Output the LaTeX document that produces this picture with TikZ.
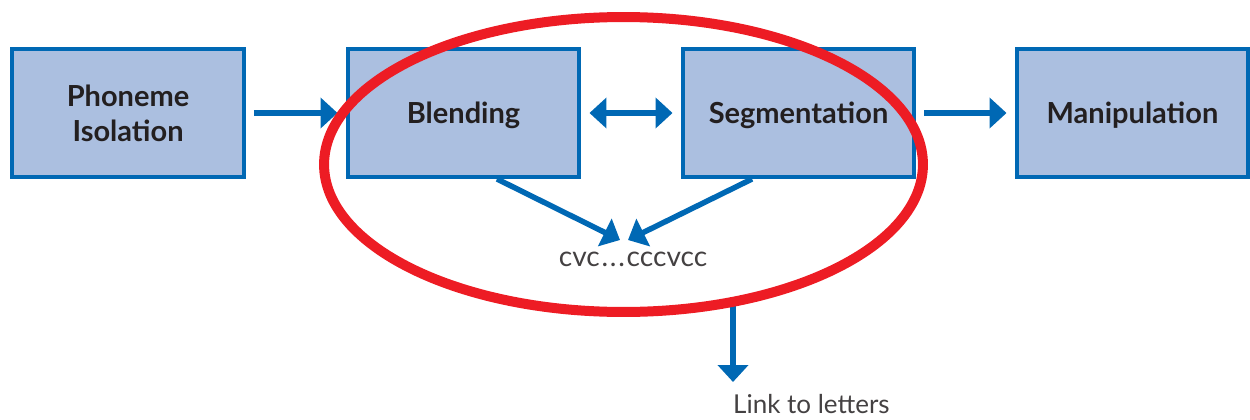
\documentclass[tikz,border=0pt]{standalone}
\usepackage{fontspec}
\setsansfont{Lato}
\usetikzlibrary{arrows.meta,shapes.geometric}
\definecolor{boxfill}{RGB}{171,191,224}
\definecolor{boxline}{RGB}{0,104,180}
\definecolor{ringred}{RGB}{237,28,36}
\definecolor{textdark}{RGB}{35,31,32}

\begin{document}
\begin{tikzpicture}[x=0.02cm,y=-0.02cm,
  skill/.style={rectangle,draw=boxline,fill=boxfill,line width=0.08cm,minimum width=4.64cm,minimum height=2.56cm,inner sep=0pt,text depth=0pt,align=center,text=textdark,font=\sffamily\bfseries\fontsize{16.5}{20}\selectfont},
  flow/.style={draw=boxline,line width=0.11cm,-{Triangle[length=0.34cm,width=0.6cm]},shorten <=0.16cm,shorten >=0.16cm},
  feed/.style={flow,shorten <=0pt,shorten >=0pt},
  note/.style={text=textdark!85,font=\sffamily\fontsize{16}{20}\selectfont}]
  \useasboundingbox (0,0) rectangle (1250,419);
  % the four steps
  \node[skill] (phon) at (128,113) {Phoneme\\Isolation};
  \node[skill] (blend) at (463.5,113) {Blending};
  \node[skill] (seg) at (798.5,113) {Segmentation};
  \node[skill] (manip) at (1132.5,113) {Manipulation};
  \node[note,anchor=base] (cvc) at (633,266) {cvc\kern1pt.\kern1pt.\kern1pt.\kern1pt cccvcc};
  \node[note,anchor=base west,font=\sffamily\fontsize{14.8}{18}\selectfont] (link) at (727,413) {Link to letters};
  \coordinate (tipB) at (620,240);
  \coordinate (tipS) at (628,240);
  \coordinate (foot) at (733,302);
  \coordinate (drop) at (733,382);
  \draw[flow] (phon) -- (blend);
  \draw[flow,{Triangle[length=0.34cm,width=0.6cm]}-{Triangle[length=0.34cm,width=0.6cm]}] (blend) -- (seg);
  \draw[flow] (seg) -- (manip);
  \draw[feed] ([xshift=0.67cm]blend.south) -- (tipB);
  \draw[feed] ([xshift=-0.93cm]seg.south) -- (tipS);
  \draw[feed] (foot) -- (drop);
  % red ring round blending and segmentation
  \node[ellipse,draw=ringred,line width=0.2cm,minimum width=11.98cm,minimum height=5.9cm,inner sep=0pt] (ring) at (623.5,164.5) {};
\end{tikzpicture}
\end{document}
